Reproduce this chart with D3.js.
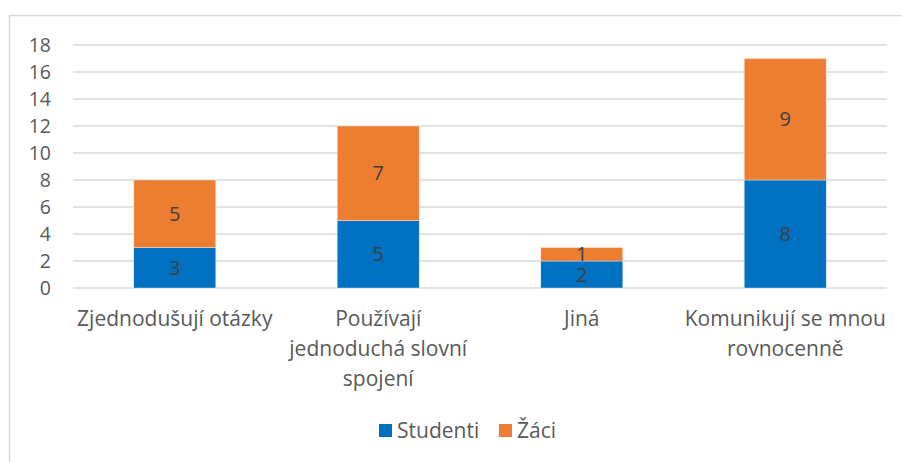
<!DOCTYPE html>
<html><head><meta charset="utf-8">
<script src="https://cdn.jsdelivr.net/npm/d3@7"></script>
<style>html,body{margin:0;padding:0;background:#fff;}svg{display:block;}</style>
</head><body>
<script>
const categories = [["Zjednodušují otázky"], ["Používají", "jednoduchá slovní", "spojení"], ["Jiná"], ["Komunikují se mnou", "rovnocenně"]];
const seriesNames = ["Studenti", "Žáci"];
const studenti = [3, 5, 2, 8];
const zaci = [5, 7, 1, 9];
const yTicks = [0, 2, 4, 6, 8, 10, 12, 14, 16, 18];
const colors = ["#0070C0", "#ED7D31"];

const W = 902, H = 462;
const font = "'Open Sans', sans-serif";
const svg = d3.select("body").append("svg").attr("width", W).attr("height", H);

svg.append("rect").attr("x", 9.5).attr("y", 15.5).attr("width", W).attr("height", H)
  .attr("fill", "#fff").attr("stroke", "#d9d9d9").attr("stroke-width", 1.5);

const plot = {l: 73, r: 887, t: 45, b: 288};
const keys = categories.map((c, i) => i);
const x = d3.scaleBand().domain(keys).range([plot.l, plot.r]).paddingInner(0.597).paddingOuter(0.2985);
const y = d3.scaleLinear().domain([0, 18]).range([plot.b, plot.t]);

// gridlines
svg.append("g").selectAll("line").data(yTicks).join("line")
  .attr("x1", plot.l).attr("x2", plot.r)
  .attr("y1", d => y(d)).attr("y2", d => y(d))
  .attr("stroke", "#d9d9d9").attr("stroke-width", 1.5);

// y axis labels
const yAxis = d3.axisLeft(y).tickValues(yTicks).tickSize(0).tickPadding(0);
const ya = svg.append("g").attr("transform", `translate(51,0)`).call(yAxis);
ya.select(".domain").remove();
ya.selectAll("text").attr("font-family", font).attr("font-size", 19.5).attr("fill", "#595959");

// stacked data
const rows = keys.map(i => ({i, Studenti: studenti[i], "Žáci": zaci[i]}));
const stack = d3.stack().keys(seriesNames)(rows);
const layers = svg.append("g").selectAll("g").data(stack).join("g").attr("fill", (d, k) => colors[k]);
layers.selectAll("rect").data(d => d).join("rect")
  .attr("x", d => x(d.data.i)).attr("width", x.bandwidth())
  .attr("y", d => y(d[1])).attr("height", d => y(d[0]) - y(d[1]))
  .attr("stroke", "#ffffff").attr("stroke-opacity", 0.5).attr("stroke-width", 0.75);

// data labels
stack.forEach(layer => {
  svg.append("g").selectAll("text").data(layer).join("text")
    .attr("x", d => x(d.data.i) + x.bandwidth() / 2)
    .attr("y", d => (y(d[0]) + y(d[1])) / 2)
    .attr("dy", "0.35em").attr("text-anchor", "middle")
    .attr("font-family", font).attr("font-size", 20).attr("fill", "#404040")
    .text(d => d[1] - d[0]);
});

// category labels
const xl = svg.append("g");
categories.forEach((lines, i) => {
  const t = xl.append("text").attr("text-anchor", "middle")
    .attr("font-family", font).attr("font-size", 21).attr("fill", "#595959");
  lines.forEach((ln, j) => {
    t.append("tspan").attr("x", x(i) + x.bandwidth() / 2).attr("y", 326 + j * 30).text(ln);
  });
});

// legend
const leg = svg.append("g");
const legItems = [{n: seriesNames[0], c: colors[0], x: 379}, {n: seriesNames[1], c: colors[1], x: 499}];
legItems.forEach(it => {
  leg.append("rect").attr("x", it.x).attr("y", 424).attr("width", 13).attr("height", 13).attr("fill", it.c);
  leg.append("text").attr("x", it.x + 18).attr("y", 431).attr("dy", "0.35em")
    .attr("font-family", font).attr("font-size", 21).attr("fill", "#595959").text(it.n);
});
</script>
</body></html>
